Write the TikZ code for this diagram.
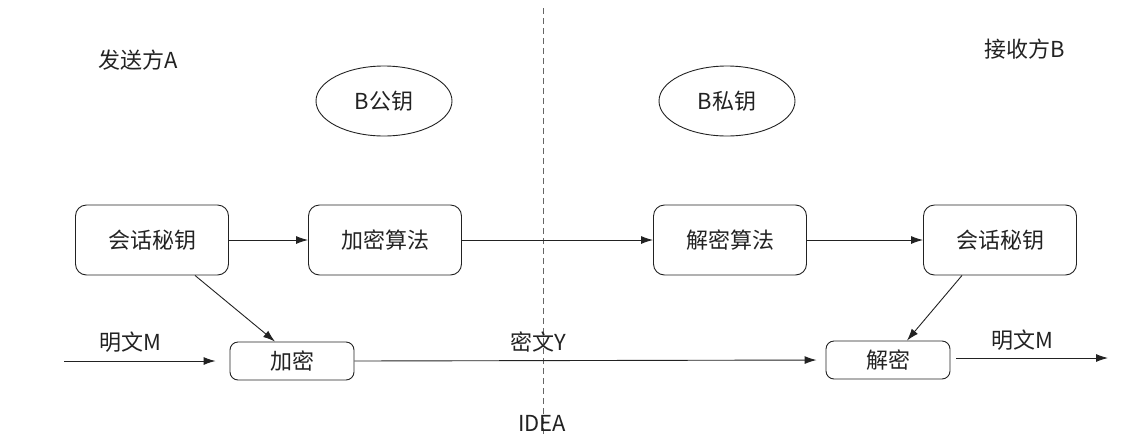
\documentclass[tikz,border=0pt]{standalone}
\usepackage{fontspec}
\setmainfont{Noto Sans CJK SC}
\usetikzlibrary{arrows.meta,shapes.geometric}
\definecolor{ink}{HTML}{222222}
\tikzset{
  lbl/.style={text=ink,font=\fontsize{22}{26}\selectfont,inner sep=0pt},
  bigbox/.style={draw=ink,line width=0.9pt,rounded corners=11pt,minimum width=153pt,minimum height=70pt,lbl},
  smallbox/.style={draw=ink,line width=0.9pt,rounded corners=8pt,minimum width=124pt,minimum height=38pt,lbl},
  keyell/.style={draw=ink,line width=0.9pt,ellipse,minimum width=136pt,minimum height=70pt,lbl},
  flow/.style={draw=ink,line width=0.9pt,-{Latex[length=12pt,width=8pt]}},
  divider/.style={draw=gray!80!black,line width=0.9pt,dash pattern=on 6pt off 4pt}
}
\begin{document}
\begin{tikzpicture}[x=1pt,y=-1pt]
\useasboundingbox (0,0) rectangle (1136,440);

% sender / receiver divider
\coordinate (divtop) at (543,8);
\coordinate (divbot) at (543,436);
\draw[divider] (divtop) -- (divbot);

% party labels
\node[lbl] (sender) at (138,60) {发送方A};
\node[lbl] (receiver) at (1025,49) {接收方B};

% keys
\node[keyell] (pubkey) at (384,101) {B公钥};
\node[keyell] (privkey) at (727,101) {B私钥};

% algorithm row
\node[bigbox] (skA) at (152,240) {会话秘钥};
\node[bigbox] (encalg) at (385,240) {加密算法};
\node[bigbox] (decalg) at (730,240) {解密算法};
\node[bigbox] (skB) at (1000,240) {会话秘钥};

% data row
\node[smallbox] (enc) at (292,361) {加密};
\node[smallbox] (dec) at (888,360) {解密};

\coordinate (inL) at (64,361);
\coordinate (outR) at (1108,358);

% labels on the data path
\node[lbl] (mA) at (130,342) {明文M};
\node[lbl] (cY) at (538,342) {密文Y};
\node[lbl] (mB) at (1022,340) {明文M};
\node[lbl] (idea) at (542,423) {IDEA};

% connectors
\draw[flow] (skA) -- (encalg);
\draw[flow] (encalg) -- (decalg);
\draw[flow] (decalg) -- (skB);
\draw[flow] (skA.south -| 195,0) -- (enc.north -| 275,0);
\draw[flow] (skB.south -| 962,0) -- (dec.north -| 907,0);
\draw[flow,shorten >=14pt] (inL) -- (enc.west |- inL);
\draw[flow,shorten >=9pt] (enc.east) -- (dec.west);
\draw[flow,shorten <=6pt] (dec.east |- outR) -- (outR);
\end{tikzpicture}
\end{document}
